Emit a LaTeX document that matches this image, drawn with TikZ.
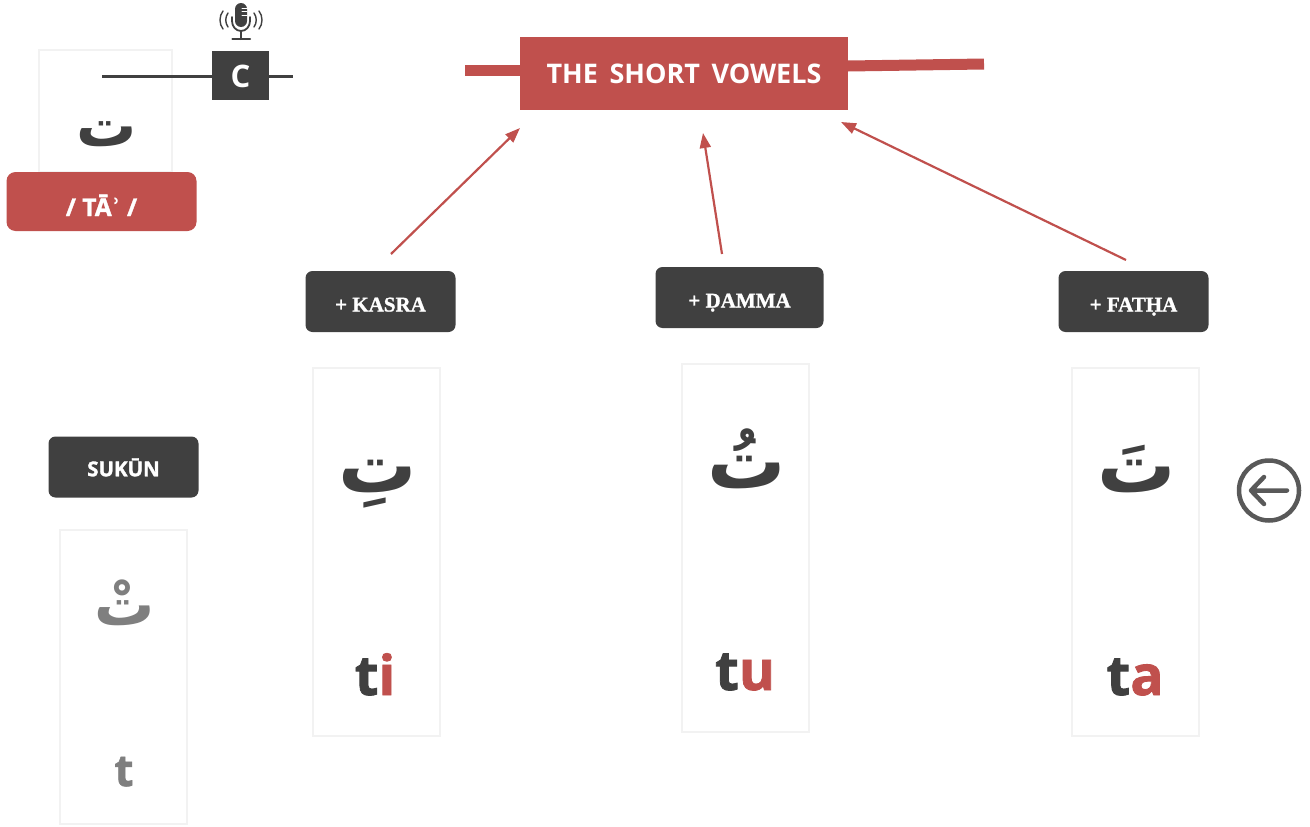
\documentclass[tikz,border=0pt]{standalone}
\usepackage{fontspec}
\setmainfont{Open Sans}
\newfontfamily\arabicfont[Script=Arabic]{DejaVu Sans}
\newfontfamily\serifb[FakeBold=1.2]{Liberation Serif}
\newfontfamily\dejasans{DejaVu Sans}
\newfontfamily\heavy[FakeBold=1.5]{Open Sans}
\TeXXeTstate=1
\usetikzlibrary{arrows.meta}
\definecolor{dk}{HTML}{404040}
\definecolor{rd}{HTML}{C0504D}
\definecolor{gy}{HTML}{7F7F7F}
\definecolor{lt}{HTML}{F2F2F2}
\definecolor{ic}{HTML}{595959}
\tikzset{
  card/.style={draw=lt,line width=2pt,fill=white,minimum width=127pt,inner sep=0pt},
  tag/.style={fill=dk,rounded corners=7pt,minimum width=150pt,minimum height=61pt,text=white,inner sep=0pt,text height=20pt,text depth=0pt},
  serifl/.style={font=\fontsize{21}{21}\selectfont\serifb\bfseries},
  harf/.style={anchor=base,inner sep=0pt,text=dk,font=\fontsize{60}{60}\selectfont\arabicfont\bfseries},
  harfb/.style={harf,font=\fontsize{78}{78}\selectfont\arabicfont\bfseries},
  latin/.style={anchor=base,inner sep=0pt,font=\fontsize{55}{55}\selectfont\heavy\bfseries},
  vowel/.style={-{Triangle[length=15pt,width=11pt]},draw=rd,line width=2.2pt},
  bar/.style={draw=rd,line width=11pt}
}
\begin{document}
\begin{tikzpicture}[x=1pt,y=-1pt]
\useasboundingbox (0,0) rectangle (1310,827);
% top card
\node[card,minimum width=133pt,minimum height=122pt] (c0) at (105.5,111) {};
\node[harf] (h0) at (107,146) {\beginR ت\endR};
\node[fill=rd,rounded corners=9pt,minimum width=190pt,minimum height=59pt,text=white,inner sep=0pt,text height=29pt,text depth=0pt,font=\fontsize{24.5}{24.5}\selectfont\heavy\bfseries] (name) at (101.5,201.5) {/ TĀ{\dejasans\bfseries ʾ} /};
% audio control
\coordinate (la) at (102,76.5);
\coordinate (lb) at (293,76.5);
\draw[dk,line width=2.4pt] (la) -- (lb);
\node[fill=dk,minimum width=57pt,minimum height=49pt,inner sep=0pt,text=white,text height=23pt,text depth=0pt,font=\fontsize{31}{31}\selectfont\bfseries] (cbtn) at (240.5,75.5) {C};
% microphone
\begin{scope}[dk,line cap=round]
\draw[fill=dk,draw=none] (235,9) arc (180:360:6) -- (247,21) arc (0:180:6) -- cycle;
\draw[white,line width=1pt] (242,8) -- (247,8) (242,11.5) -- (247,11.5) (242,15) -- (247,15);
\draw[line width=1.8pt] (232,17) -- (232,21) arc (180:0:9 and 10) -- (250,17);
\draw[line width=2pt] (241,31) -- (241,39);
\draw[line width=2.2pt] (232.5,39) -- (250,39);
\draw[line width=1.4pt] (228,13) .. controls (225,17) and (225,23) .. (228,27);
\draw[line width=1.4pt] (223,11) .. controls (219,16) and (219,24) .. (223,29);
\draw[line width=1.4pt] (254,13) .. controls (257,17) and (257,23) .. (254,27);
\draw[line width=1.4pt] (259,11) .. controls (263,16) and (263,24) .. (259,29);
\end{scope}
% title
\node[fill=rd,minimum width=328pt,minimum height=73pt,inner sep=0pt,text=white,text height=19pt,text depth=0pt,font=\fontsize{27}{27}\selectfont\bfseries] (title) at (684,73.5) {THE\hspace{4.5pt} SHORT\hspace{4.5pt} VOWELS};
\coordinate (tl) at (465,70);
\coordinate (tr) at (984,64);
\draw[bar] (tl) -- (title.west |- tl);
\coordinate (tm) at (848,66);
\draw[bar] (tm) -- (tr);
% tags
\node[tag,serifl] (kasra) at (380.5,301.5) {+ KASRA};
\node[tag,serifl,minimum width=168pt] (damma) at (739.5,297.5) {+ ḌAMMA};
\node[tag,serifl] (fatha) at (1133.5,301.5) {+ FATḤA};
\node[tag,text height=18.5pt,font=\fontsize{20.5}{20.5}\selectfont\heavy\bfseries] (sukun) at (123.5,467) {SUKŪN};
% arrows
\coordinate (ka) at (391,254);
\coordinate (kb) at (520,128);
\coordinate (da) at (722,254);
\coordinate (db) at (703,133);
\coordinate (fa) at (1126,260);
\coordinate (fb) at (841,122);
\draw[vowel] (ka) -- (kb);
\draw[vowel] (da) -- (db);
\draw[vowel] (fa) -- (fb);
% cards
\node[card,minimum height=368pt] (c1) at (376.5,552) {};
\node[card,minimum height=368pt] (c2) at (745.5,548) {};
\node[card,minimum height=368pt] (c3) at (1135.5,552) {};
\node[card,minimum height=294pt] (c4) at (123.5,677) {};
% arabic
\node[harfb] (h1) at (377.5,492) {\beginR تِ\endR};
\node[harfb] (h2) at (747,488) {\beginR تُ\endR};
\node[harfb] (h3) at (1136.5,492) {\beginR تَ\endR};
\node[harf,text=gy] (h4) at (124.5,625) {\beginR تْ\endR};
% latin
\node[latin,text=dk] (l1) at (375,695) {t\textcolor{rd}{i}};
\node[latin,text=dk] (l2) at (745,690) {t\textcolor{rd}{u}};
\node[latin,text=dk] (l3) at (1135,695) {t\textcolor{rd}{a}};
\node[latin,text=gy,font=\fontsize{44}{44}\selectfont\heavy\bfseries] (l4) at (124,786) {t};
% back arrow
\node[circle,draw=ic,line width=4.5pt,minimum size=60pt,inner sep=0pt] (back) at (1269,490.5) {};
\coordinate (ba) at (1287,490.5);
\coordinate (bb) at (1251,490.5);
\coordinate (bu) at (1264,477);
\coordinate (bd) at (1264,504);
\draw[ic,line width=4.5pt,line cap=round,line join=round] (ba) -- (bb) (bu) -- (bb) -- (bd);
\end{tikzpicture}
\end{document}
